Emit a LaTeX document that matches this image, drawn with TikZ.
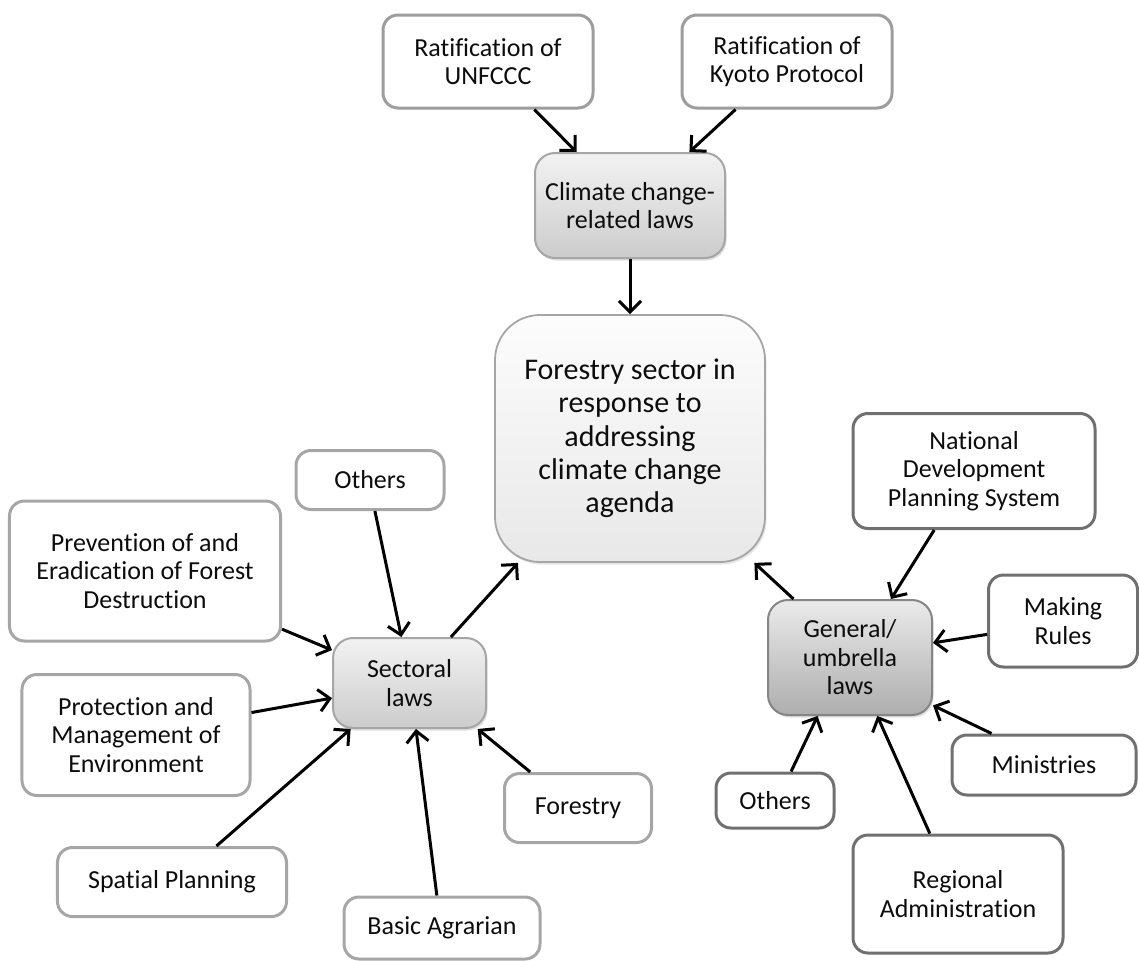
\documentclass[tikz,border=0pt]{standalone}
\usepackage{fontspec}
\setmainfont{Carlito}[Ligatures=NoCommon]
\usetikzlibrary{arrows.meta,shadows}

\definecolor{rimlight}{HTML}{A6A6A6}
\definecolor{rimtop}{HTML}{9D9D9D}
\definecolor{rimdark}{HTML}{707070}
\definecolor{inkcol}{HTML}{0D0D0D}

\begin{document}
\begin{tikzpicture}[x=1bp,y=-1bp,
  box/.style={rectangle, rounded corners=15bp, line width=3bp, fill=white,
    align=center, inner sep=0pt, text=inkcol,
    font=\fontsize{26bp}{28.5bp}\selectfont},
  lightbox/.style={box, draw=rimlight},
  topbox/.style={box, draw=rimtop},
  darkbox/.style={box, draw=rimdark},
  hub/.style={box, line width=2bp, rounded corners=20bp, draw=rimlight,
    top color=white!95!black, bottom color=white!80!black,
    drop shadow={opacity=0.25, shadow xshift=1.5bp, shadow yshift=-2.5bp}},
  darkhub/.style={hub, draw=rimdark!85,
    top color=white!92!black, bottom color=white!68!black},
  core/.style={box, line width=1.8bp, rounded corners=45bp, draw=rimlight,
    top color=white!99!black, bottom color=white!91!black,
    font=\fontsize{30bp}{33.3bp}\selectfont,
    drop shadow={opacity=0.2, shadow xshift=1.5bp, shadow yshift=-2.5bp}},
  link/.style={line width=3bp, draw=black,
    -{Straight Barb[length=11bp,width=22bp]}}
]
\useasboundingbox (0,0) rectangle (1139,961);

% top branch
\node[topbox, minimum width=210bp, minimum height=93bp] (unf) at (488,61.5)
  {Ratification of\\UNFCCC};
\node[topbox, minimum width=210bp, minimum height=93bp] (kyo) at (787,61.5)
  {Ratification of\\Kyoto Protocol};
\node[hub, minimum width=190bp, minimum height=105bp] (clim) at (630,205.5)
  {Climate change-\\related laws};

% centre
\node[core, minimum width=270bp, minimum height=247bp] (cent) at (630,438.5)
  {Forestry sector in\\response to\\addressing\\climate change\\agenda};

% sectoral laws and their sources
\node[hub, minimum width=153bp, minimum height=90bp] (sect) at (409.5,683)
  {Sectoral\\laws};
\node[lightbox, minimum width=148bp, minimum height=59bp] (othl) at (370,480)
  {Others};
\node[lightbox, minimum width=271bp, minimum height=140bp] (prev) at (145,571)
  {Prevention of and\\Eradication of Forest\\Destruction};
\node[lightbox, minimum width=228bp, minimum height=121bp] (prot) at (136,735)
  {Protection and\\Management of\\Environment};
\node[lightbox, minimum width=229bp, minimum height=69bp] (spat) at (172,882)
  {Spatial Planning};
\node[lightbox, minimum width=196bp, minimum height=62bp] (agr) at (442,928)
  {Basic Agrarian};
\node[lightbox, minimum width=147bp, minimum height=69bp] (fore) at (578,808)
  {Forestry};

% general / umbrella laws and their sources
\node[darkhub, minimum width=164bp, minimum height=115bp] (gen) at (850,657.5)
  {General/\\umbrella\\laws};
\node[darkbox, minimum width=242bp, minimum height=115bp] (ndps) at (974,471)
  {National\\Development\\Planning System};
\node[darkbox, minimum width=149bp, minimum height=92bp] (rules) at (1063,621)
  {Making\\Rules};
\node[darkbox, minimum width=184bp, minimum height=60bp] (mini) at (1044,765)
  {Ministries};
\node[darkbox, minimum width=118bp, minimum height=55bp] (othr) at (775,800.5)
  {Others};
\node[darkbox, minimum width=210bp, minimum height=118bp] (reg) at (958,894)
  {Regional\\Administration};

% connectors
\draw[link] (unf.-46) -- (clim.135);
\draw[link] (kyo.-137) -- (clim.42);
\draw[link] (clim.south) -- (cent.north);

\draw[link] (sect.48) -- (cent.-132);
\draw[link] (gen.134) -- (cent.-45);

\draw[link] (othl.-81) -- (sect.100);
\draw[link] (prev.-23) -- (sect.157);
\draw[link] (prot.11) -- (sect.191);
\draw[link] (spat.39) -- (sect.-142);
\draw[link] (agr.99) -- (sect.-82);
\draw[link] (fore.143) -- (sect.-34.5);

\draw[link] (ndps.-124) -- (gen.55);
\draw[link] (rules.190) -- (gen.10);
\draw[link] (mini.149.5) -- (gen.-30);
\draw[link] (othr.61) -- (gen.-119);
\draw[link] (reg.115) -- (gen.-65);
\end{tikzpicture}
\end{document}
